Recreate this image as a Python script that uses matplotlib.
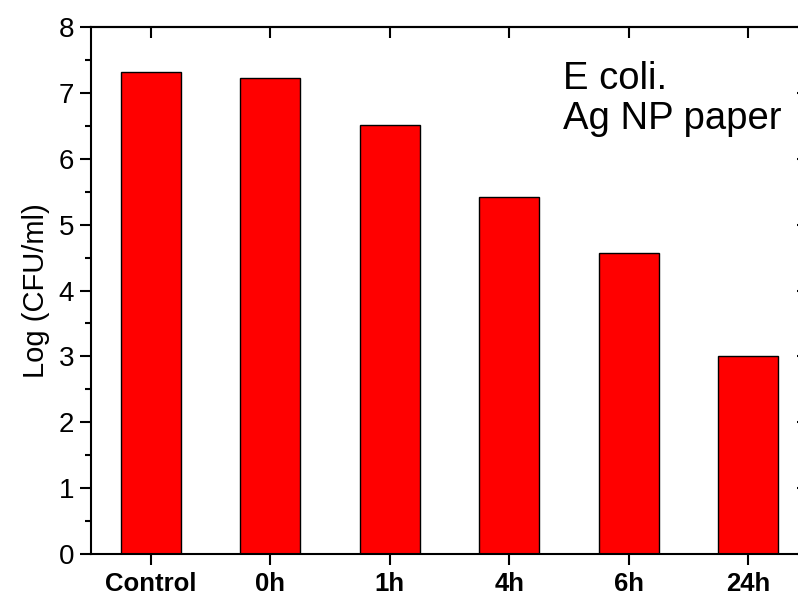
import matplotlib.pyplot as plt
from matplotlib.ticker import MultipleLocator

plt.rcParams['font.family'] = ['Liberation Sans', 'DejaVu Sans']

categories = ['Control', '0h', '1h', '4h', '6h', '24h']
log_cfu = [7.31, 7.22, 6.51, 5.42, 4.57, 3.00]


def chart():
    fig = plt.figure(figsize=(7.98, 5.98), dpi=100)
    ax = fig.add_axes([0.114, 0.0736, 0.8985, 0.8812])

    x = list(range(len(categories)))
    ax.bar(x, log_cfu, width=0.5, color='#ff0000', edgecolor='black', linewidth=1.0)

    ax.set_xlim(-0.5, len(categories) - 0.5)
    ax.set_ylim(0, 8)
    ax.set_xticks(x)
    ax.set_xticklabels(categories, fontsize=18.5, fontweight='bold')
    ax.yaxis.set_major_locator(MultipleLocator(1))
    ax.yaxis.set_minor_locator(MultipleLocator(0.5))

    # outward ticks on left and bottom
    ax.tick_params(axis='y', which='major', labelsize=20, length=8, width=1.5,
                   direction='out', pad=4)
    ax.tick_params(axis='y', which='minor', length=4, width=1.5, direction='out')
    ax.tick_params(axis='x', which='major', length=8, width=1.5, direction='out', pad=5)
    ax.set_ylabel('Log (CFU/ml)', fontsize=21, labelpad=6)

    # inward ticks on top and right
    top = ax.secondary_xaxis('top')
    top.set_xticks(x)
    top.set_xticklabels([])
    top.tick_params(axis='x', which='major', direction='in', length=8, width=1.5)
    right = ax.secondary_yaxis('right')
    right.yaxis.set_major_locator(MultipleLocator(1))
    right.yaxis.set_minor_locator(MultipleLocator(0.5))
    right.set_yticklabels([])
    right.tick_params(which='major', direction='in', length=8, width=1.5)
    right.tick_params(which='minor', direction='in', length=4, width=1.5)

    for a in (ax, top, right):
        for s in a.spines.values():
            s.set_linewidth(1.5)

    ax.text(0.658, 0.935, 'E coli.\nAg NP paper', transform=ax.transAxes, fontsize=27.5,
            va='top', ha='left', linespacing=1.15)

    fig.savefig('out.png', dpi=100)


if __name__ == '__main__':
    chart()
